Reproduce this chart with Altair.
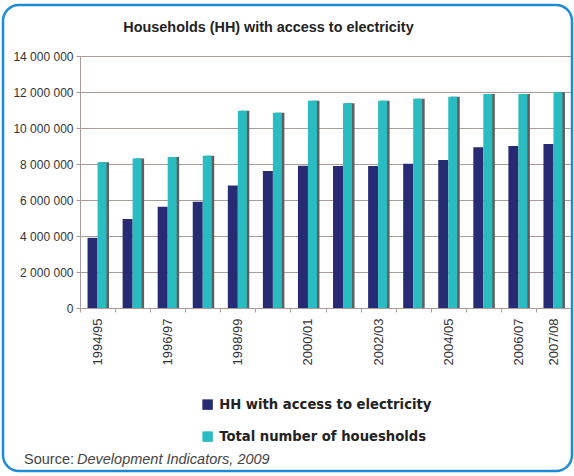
import altair as alt
import pandas as pd

# ---- data ----
years = ["1994/95", "1995/96", "1996/97", "1997/98", "1998/99", "1999/00", "2000/01",
         "2001/02", "2002/03", "2003/04", "2004/05", "2005/06", "2006/07", "2007/08"]
hh_electricity = [3900000, 4940000, 5630000, 5900000, 6800000, 7610000, 7900000,
                  7890000, 7890000, 8020000, 8220000, 8930000, 9000000, 9110000]
total_households = [8100000, 8300000, 8390000, 8460000, 10960000, 10850000, 11520000,
                    11370000, 11520000, 11630000, 11740000, 11890000, 11890000, 11980000]
shown_labels = ["1994/95", "1996/97", "1998/99", "2000/01", "2002/03", "2004/05", "2006/07", "2007/08"]
y_ticks = [0, 2000000, 4000000, 6000000, 8000000, 10000000, 12000000, 14000000]
series_names = ["HH with access to electricity", "Total number of houesholds"]
series_colors = ["#262b74", "#29bcc1"]
title_text = "Households (HH) with access to electricity"
source_label = "Source:"
source_ref = "Development Indicators, 2009"

rows = []
for i, yr in enumerate(years):
    rows.append({"year": yr, "series": series_names[0], "value": hh_electricity[i]})
    rows.append({"year": yr, "series": series_names[1], "value": total_households[i]})
df = pd.DataFrame(rows)

W, H = 491, 252
grid_col = "#a69c98"

label_list = ",".join("'" + s + "'" for s in shown_labels)

x_enc = alt.X(
    "year:N", sort=years,
    scale=alt.Scale(domain=years, paddingInner=0, paddingOuter=0),
    axis=alt.Axis(
        title=None, labelAngle=270, labelAlign="right", labelBaseline="middle",
        labelExpr="indexof([" + label_list + "], datum.label) >= 0 ? datum.label : ''",
        tickBand="extent", ticks=True, tickSize=4, tickColor=grid_col,
        domainColor=grid_col, labelFont="Liberation Sans", labelFontSize=13,
        labelColor="#333333", labelPadding=6, grid=False, labelOverlap=False,
    ),
)
y_enc = alt.Y(
    "value:Q",
    scale=alt.Scale(domain=[0, 14000000], nice=False),
    axis=alt.Axis(
        title=None, values=y_ticks,
        labelExpr="replace(replace(format(datum.value, ','), ',', ' '), ',', ' ')",
        grid=True, gridColor=grid_col, gridWidth=1, domainColor=grid_col,
        tickColor=grid_col, tickSize=4, labelFont="Liberation Sans", labelFontSize=12,
        labelColor="#333333", labelPadding=3,
    ),
)

color_enc = alt.Color(
    "series:N",
    scale=alt.Scale(domain=series_names, range=series_colors),
    legend=alt.Legend(
        title=None, orient="none", legendX=121, legendY=342, direction="vertical",
        symbolType="square", symbolSize=110, symbolStrokeWidth=0, symbolOpacity=1,
        labelFont="DejaVu Sans", labelFontWeight="bold", labelFontSize=13.2,
        labelColor="#222222", labelOffset=5, rowPadding=18, padding=0, labelLimit=400,
    ),
)

base = alt.Chart(df)

shadow = base.transform_filter(alt.datum.series == series_names[1]).mark_bar(
    width=9, xOffset=7, color="#5f5f5f"
).encode(x=x_enc, y=y_enc)

navy = base.transform_filter(alt.datum.series == series_names[0]).mark_bar(
    width=10, xOffset=-5
).encode(x=x_enc, y=y_enc, color=color_enc)

teal = base.transform_filter(alt.datum.series == series_names[1]).mark_bar(
    width=9, xOffset=4.5
).encode(x=x_enc, y=y_enc, color=color_enc)

one = pd.DataFrame({"k": [0]})

frame = alt.Chart(one).mark_rect(
    fillOpacity=0, stroke="#1d8bd6", strokeWidth=2.5, cornerRadius=16
).encode(x=alt.value(-77), x2=alt.value(492), y=alt.value(-51), y2=alt.value(415))

title = alt.Chart(one).mark_text(
    align="center", baseline="alphabetic", font="Liberation Sans", fontSize=14.4,
    fontWeight="bold", color="#222222"
).encode(x=alt.value(188.5), y=alt.value(-24), text=alt.value(title_text))

src1 = alt.Chart(one).mark_text(
    align="left", baseline="alphabetic", font="Liberation Sans", fontSize=14.5,
    color="#444444"
).encode(x=alt.value(-56), y=alt.value(408), text=alt.value(source_label))

src2 = alt.Chart(one).mark_text(
    align="left", baseline="alphabetic", font="Liberation Sans", fontSize=14.5,
    fontStyle="italic", color="#444444"
).encode(x=alt.value(-3), y=alt.value(408), text=alt.value(source_ref))

chart = alt.layer(shadow, navy, teal, frame, title, src1, src2).properties(
    width=W, height=H,
    autosize=alt.AutoSizeParams(type="none"),
    padding={"left": 80, "top": 56, "right": 3, "bottom": 168},
).configure_view(
    fill="#f9fafc", stroke=None
).configure(background="white")

chart.save("out.html", embed_options={"renderer": "svg", "actions": False})
